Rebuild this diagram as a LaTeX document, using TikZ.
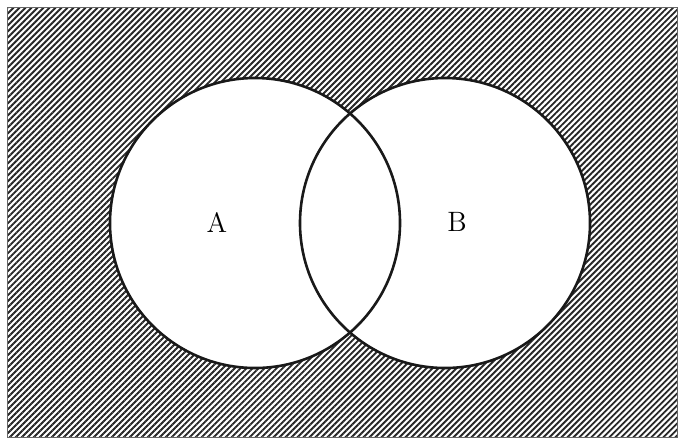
\documentclass[tikz,border=0pt]{standalone}
\usetikzlibrary{patterns.meta}
\begin{document}
\begin{tikzpicture}[x=0.5pt,y=-0.5pt,
  setline/.style={line width=1.3pt,draw=black!90},
  hatch/.style={pattern={Lines[angle=45,distance=2.12pt,line width=0.95pt]},pattern color=black!85},
  lbl/.style={font=\fontsize{14}{17}\selectfont,inner sep=0pt}]
\useasboundingbox (0,0) rectangle (684,441);
\coordinate (ca) at (255,223);
\coordinate (cb) at (445,223);
\path[hatch,draw=black!60,line width=0.5pt] (7,7) rectangle (677,437);
\fill[white] (ca) circle[radius=145];
\fill[white] (cb) circle[radius=145];
\draw[setline] (ca) circle[radius=145];
\draw[setline] (cb) circle[radius=145];
\node[lbl] (A) at (217,222) {A};
\node[lbl] (B) at (457,222) {B};
\end{tikzpicture}
\end{document}
